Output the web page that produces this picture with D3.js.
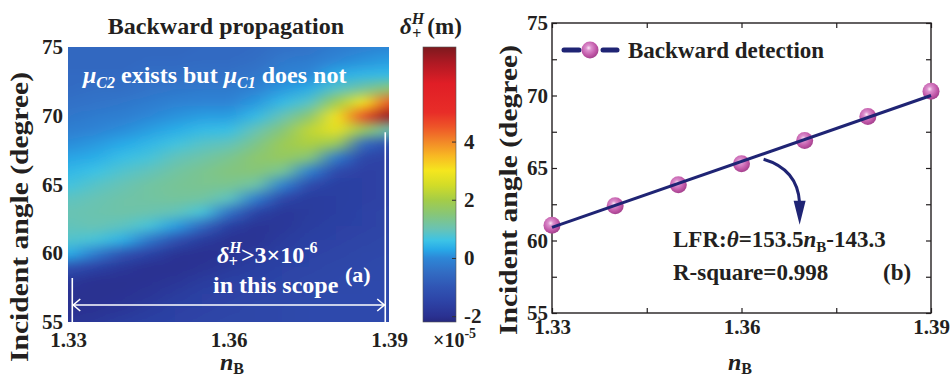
<!DOCTYPE html>
<html>
<head>
<meta charset="utf-8">
<script src="https://cdn.jsdelivr.net/npm/d3@7"></script>
<style>
  body { margin: 0; background: #fff; }
  svg text { font-family: "Liberation Serif", "Times New Roman", serif; font-weight: bold; fill: #231f20; }
</style>
</head>
<body>
<div id="chart"></div>
<script>
// ---- data ----
// panel (a): delta^H_+ (x1e-5 m) sampled on an n_B x angle grid
var nValues = [1.33, 1.335, 1.34, 1.345, 1.35, 1.355, 1.36, 1.365, 1.37, 1.375, 1.38, 1.385, 1.39];
var angleValues = [55, 56, 57, 58, 59, 60, 61, 62, 63, 64, 65, 66, 67, 68, 69, 70, 71, 72, 73, 74, 75];
// one row per n_B value, angles 55 -> 75
var deltaGrid = [
  [-1.9, -2.0, -2.0, -1.8, -1.1, 0.35, 0.8, 0.95, 1.0, 0.9, 0.65, 0.45, 0.25, 0.05, -0.15, -0.3, -0.4, -0.5, -0.55, -0.6, -0.6],
  [-1.8, -1.95, -2.0, -2.0, -1.5, -0.2, 0.7, 1.0, 1.05, 1.0, 0.85, 0.6, 0.35, 0.15, -0.05, -0.2, -0.35, -0.45, -0.55, -0.6, -0.6],
  [-1.65, -1.85, -1.95, -2.0, -1.8, -1.0, 0.4, 0.9, 1.1, 1.1, 1.0, 0.8, 0.55, 0.3, 0.05, -0.15, -0.3, -0.45, -0.55, -0.6, -0.6],
  [-1.55, -1.7, -1.85, -1.95, -2.0, -1.5, -0.3, 0.7, 1.05, 1.15, 1.15, 0.95, 0.7, 0.45, 0.2, 0.0, -0.2, -0.35, -0.45, -0.55, -0.6],
  [-1.5, -1.55, -1.7, -1.85, -2.0, -1.9, -1.1, 0.2, 0.95, 1.2, 1.25, 1.15, 0.95, 0.65, 0.35, 0.1, -0.1, -0.3, -0.45, -0.55, -0.6],
  [-1.45, -1.5, -1.55, -1.7, -1.9, -2.0, -1.7, -0.6, 0.7, 1.15, 1.3, 1.3, 1.1, 0.85, 0.5, 0.2, -0.05, -0.25, -0.4, -0.5, -0.55],
  [-1.4, -1.45, -1.5, -1.55, -1.75, -1.9, -1.95, -1.6, -0.4, 0.9, 1.3, 1.45, 1.3, 0.95, 0.55, 0.2, -0.05, -0.25, -0.4, -0.5, -0.55],
  [-1.4, -1.4, -1.45, -1.5, -1.6, -1.75, -1.9, -1.9, -1.5, -0.2, 1.1, 1.5, 1.6, 1.35, 1.0, 0.5, 0.15, -0.1, -0.3, -0.45, -0.5],
  [-1.35, -1.35, -1.4, -1.45, -1.5, -1.6, -1.7, -1.8, -1.8, -1.4, -0.1, 1.25, 1.75, 1.85, 1.5, 1.0, 0.5, 0.15, -0.1, -0.25, -0.4],
  [-1.3, -1.3, -1.35, -1.4, -1.45, -1.5, -1.55, -1.65, -1.7, -1.7, -1.3, -0.1, 1.5, 2.1, 2.3, 1.6, 0.85, 0.35, 0.0, -0.2, -0.35],
  [-1.3, -1.3, -1.3, -1.35, -1.4, -1.45, -1.5, -1.55, -1.6, -1.6, -1.6, -1.3, -0.2, 1.8, 2.8, 3.0, 1.9, 0.85, 0.35, 0.0, -0.2],
  [-1.3, -1.3, -1.3, -1.3, -1.35, -1.4, -1.45, -1.5, -1.5, -1.55, -1.55, -1.55, -1.4, -0.5, 1.8, 4.6, 3.0, 1.2, 0.45, 0.1, -0.1],
  [-1.3, -1.3, -1.3, -1.3, -1.3, -1.35, -1.4, -1.45, -1.45, -1.5, -1.5, -1.5, -1.5, -1.2, 1.0, 7.0, 4.5, 1.6, 0.5, 0.2, 0.0]
];
// colour bar, as it looks in the picture (washed-out jet)
var colorStops = [-2.2, -2.0, -1.5, -1.0, -0.5, 0.0, 0.3, 0.6, 1.0, 1.5, 2.0, 2.5, 3.0, 3.5, 4.0, 4.5, 5.0, 6.0, 6.7, 7.25];
var colorHex = ["#26287f", "#2a3191", "#2d43a6", "#3055b4", "#326cc3", "#2d87d7", "#28aae8", "#3cc3e6",
                "#69c3b4", "#87c678", "#a5cd46", "#d2dc28", "#f5e61e", "#f8b923", "#f28728", "#ee5528",
                "#e82d28", "#e01e26", "#af1923", "#7d191e"];
var cbarTicks = [-2, 0, 2, 4];

// panel (b): backward detection
var detectN = [1.33, 1.34, 1.35, 1.36, 1.37, 1.38, 1.39];
var detectAngle = [61.05, 62.4, 63.85, 65.3, 66.9, 68.55, 70.3];
var fitN = [1.33, 1.39];
var fitAngle = [60.9, 70.0];

var nTicks = [1.33, 1.36, 1.39];
var nMinorTicks = [1.33, 1.345, 1.36, 1.375, 1.39];
var angleTicks = [55, 60, 65, 70, 75];
var angleMinorTicks = [55, 57.5, 60, 62.5, 65, 67.5, 70, 72.5, 75];

var svgWidth = 952, svgHeight = 378;
var svg = d3.select("#chart").append("svg")
  .attr("width", svgWidth).attr("height", svgHeight);
var defs = svg.append("defs");

var xL = d3.scaleLinear().domain([1.33, 1.39]).range([68, 389]);
var yL = d3.scaleLinear().domain([55, 75]).range([322, 47]);
var cb = d3.scaleLinear().domain([-2.2, 7.25]).range([322, 47]);
var xR = d3.scaleLinear().domain([1.33, 1.39]).range([552, 931]);
var yR = d3.scaleLinear().domain([55, 75]).range([313, 23]);
var color = d3.scaleLinear().domain(colorStops).range(colorHex).clamp(true);
var dashNum = function(d) { return d < 0 ? "-" + Math.abs(d) : "" + d; };

// rich text helper: parts = [{t, it, sh (baseline shift), sz, dx}]
function richText(g, x, y, parts, size, anchor, fill) {
  var t = g.append("text").attr("x", x).attr("y", y)
    .style("font-size", size + "px")
    .attr("text-anchor", anchor || "start");
  if (fill) t.style("fill", fill);
  var cur = 0;
  parts.forEach(function(p) {
    var sh = p.sh || 0;
    var ts = t.append("tspan").text(p.t).attr("dy", sh - cur);
    if (p.dx) ts.attr("dx", p.dx);
    if (p.it) ts.style("font-style", "italic");
    if (p.sz) ts.style("font-size", p.sz + "px");
    cur = sh;
  });
  return t;
}

// ---------- panel (a): heat map ----------
var nc = nValues.length, nr = angleValues.length;
var canvas = document.createElement("canvas");
canvas.width = nc + 2; canvas.height = nr + 2;
var ctx = canvas.getContext("2d");
var img = ctx.createImageData(nc + 2, nr + 2);
for (var px = 0; px < nc + 2; px++) {
  for (var py = 0; py < nr + 2; py++) {
    var i = Math.min(Math.max(px - 1, 0), nc - 1);
    var j = Math.min(Math.max(nr - py, 0), nr - 1);
    var c = d3.rgb(color(deltaGrid[i][j]));
    var k = (py * (nc + 2) + px) * 4;
    img.data[k] = c.r; img.data[k + 1] = c.g; img.data[k + 2] = c.b; img.data[k + 3] = 255;
  }
}
ctx.putImageData(img, 0, 0);

defs.append("clipPath").attr("id", "heatClip").append("rect")
  .attr("x", xL(1.33)).attr("y", yL(75))
  .attr("width", xL(1.39) - xL(1.33)).attr("height", yL(55) - yL(75));
defs.append("filter").attr("id", "soft")
  .attr("filterUnits", "userSpaceOnUse")
  .attr("x", 0).attr("y", 0).attr("width", 460).attr("height", 378)
  .append("feGaussianBlur").attr("stdDeviation", "6 3");

var dn = 0.005, da = 1;
svg.append("g").attr("clip-path", "url(#heatClip)")
  .append("image")
  .attr("href", canvas.toDataURL())
  .attr("preserveAspectRatio", "none")
  .attr("filter", "url(#soft)")
  .attr("x", xL(1.33 - 1.5 * dn))
  .attr("y", yL(75 + 1.5 * da))
  .attr("width", xL(1.39 + 1.5 * dn) - xL(1.33 - 1.5 * dn))
  .attr("height", yL(55 - 1.5 * da) - yL(75 + 1.5 * da));

// axes of (a)
var axA = svg.append("g").attr("transform", "translate(0," + yL(55) + ")")
  .call(d3.axisBottom(xL).tickValues(nTicks).tickSize(0).tickPadding(10).tickFormat(d3.format(".2f")));
var ayA = svg.append("g").attr("transform", "translate(" + xL(1.33) + ",0)")
  .call(d3.axisLeft(yL).tickValues(angleTicks).tickSize(0).tickPadding(5));
[axA, ayA].forEach(function(a) {
  a.select(".domain").remove();
  a.selectAll("text").style("font-size", "21px").attr("fill", null);
});

// white annotations
var annA = svg.append("g");
richText(annA, 83, 83, [
  {t: "\u03bc", it: true}, {t: "C2", it: true, sz: 16, sh: 5},
  {t: " exists but ", sh: 0}, {t: "\u03bc", it: true}, {t: "C1", it: true, sz: 16, sh: 5},
  {t: " does not", sh: 0}], 24, "start", "#fff");
richText(annA, 217, 263, [
  {t: "\u03b4", it: true}, {t: "H", it: true, sz: 16, sh: -10},
  {t: "+", sz: 16, sh: 4, dx: -13}, {t: ">3\u00d710", sh: 0, dx: 3},
  {t: "-6", sz: 16, sh: -10}], 24, "start", "#fff");
richText(annA, 213, 293, [{t: "in this scope"}], 24, "start", "#fff");
richText(annA, 345, 282, [{t: "(a)"}], 22, "start", "#fff");

var arrowY = 305;
var leftX = xL(1.3308), rightX = xL(1.3893);
annA.append("line").attr("x1", leftX).attr("x2", rightX).attr("y1", arrowY).attr("y2", arrowY);
annA.append("line").attr("x1", leftX).attr("x2", leftX).attr("y1", yL(58.2)).attr("y2", yL(55));
annA.append("line").attr("x1", rightX).attr("x2", rightX).attr("y1", yL(68.8)).attr("y2", yL(55));
annA.append("path").attr("d", "M" + (leftX + 8) + "," + (arrowY - 6) + "L" + (leftX + 1) + "," + arrowY + "L" + (leftX + 8) + "," + (arrowY + 6)).attr("fill", "none");
annA.append("path").attr("d", "M" + (rightX - 8) + "," + (arrowY - 6) + "L" + (rightX - 1) + "," + arrowY + "L" + (rightX - 8) + "," + (arrowY + 6)).attr("fill", "none");
annA.selectAll("line,path").attr("stroke", "#fff").attr("stroke-width", 1.6);

// title + labels of (a)
svg.append("text").attr("x", 226).attr("y", 34).attr("text-anchor", "middle")
  .style("font-size", "24px").text("Backward propagation");
svg.append("text").attr("transform", "translate(28,217) rotate(-90)")
  .attr("text-anchor", "middle").style("font-size", "26px")
  .attr("textLength", 290).attr("lengthAdjust", "spacingAndGlyphs")
  .text("Incident angle (degree)");
richText(svg, 232, 370, [{t: "n", it: true}, {t: "B", sz: 16, sh: 4}], 24, "middle");

// ---------- colour bar ----------
var grad = defs.append("linearGradient").attr("id", "cbarGrad")
  .attr("x1", 0).attr("y1", 1).attr("x2", 0).attr("y2", 0);
colorStops.forEach(function(v, idx) {
  grad.append("stop").attr("offset", (v - colorStops[0]) / (colorStops[colorStops.length - 1] - colorStops[0]))
    .attr("stop-color", colorHex[idx]);
});
svg.append("rect").attr("x", 423).attr("y", cb(7.25)).attr("width", 33)
  .attr("height", cb(-2.2) - cb(7.25)).attr("fill", "url(#cbarGrad)")
  .attr("stroke", "#555").attr("stroke-width", 0.6);
var cbAxis = svg.append("g").attr("transform", "translate(456,0)")
  .call(d3.axisRight(cb).tickValues(cbarTicks).tickSizeInner(-4).tickSizeOuter(0).tickPadding(8).tickFormat(dashNum));
cbAxis.select(".domain").remove();
cbAxis.selectAll("line").attr("stroke", "#333");
cbAxis.selectAll("text").style("font-size", "21px").attr("fill", null);
richText(svg, 400, 34, [
  {t: "\u03b4", it: true}, {t: "H", it: true, sz: 16, sh: -10},
  {t: "+", sz: 16, sh: 5, dx: -12}, {t: "(m)", sh: 0, dx: 6}], 23, "start");
richText(svg, 433, 347, [{t: "\u00d710"}, {t: "-5", sz: 14, sh: -9}], 20, "start");

// ---------- panel (b) ----------
var gB = svg.append("g");
var axB = gB.append("g").attr("transform", "translate(0," + yR(55) + ")")
  .call(d3.axisBottom(xR).tickValues(nMinorTicks).tickSizeInner(-5).tickSizeOuter(0).tickPadding(6)
    .tickFormat(function(d) { return nTicks.indexOf(d) >= 0 ? d3.format(".2f")(d) : ""; }));
var axBt = gB.append("g").attr("transform", "translate(0," + yR(75) + ")")
  .call(d3.axisTop(xR).tickValues(nMinorTicks).tickSizeInner(-5).tickSizeOuter(0).tickFormat(""));
var ayB = gB.append("g").attr("transform", "translate(" + xR(1.33) + ",0)")
  .call(d3.axisLeft(yR).tickValues(angleMinorTicks).tickSizeInner(-5).tickSizeOuter(0).tickPadding(4)
    .tickFormat(function(d) { return angleTicks.indexOf(d) >= 0 ? d : ""; }));
var ayBr = gB.append("g").attr("transform", "translate(" + xR(1.39) + ",0)")
  .call(d3.axisRight(yR).tickValues(angleMinorTicks).tickSizeInner(-5).tickSizeOuter(0).tickFormat(""));
[axB, axBt, ayB, ayBr].forEach(function(a) {
  a.select(".domain").remove();
  a.selectAll("line").attr("stroke", "#231f20").attr("stroke-width", 1.2);
  a.selectAll("text").style("font-size", "21px").attr("fill", null);
});
gB.append("rect").attr("x", xR(1.33)).attr("y", yR(75))
  .attr("width", xR(1.39) - xR(1.33)).attr("height", yR(55) - yR(75))
  .attr("fill", "none").attr("stroke", "#231f20").attr("stroke-width", 1.4);

var sphere = defs.append("radialGradient").attr("id", "sphere")
  .attr("cx", "0.42").attr("cy", "0.38").attr("r", "0.62");
sphere.append("stop").attr("offset", 0).attr("stop-color", "#fbe8f6");
sphere.append("stop").attr("offset", 0.25).attr("stop-color", "#dc8fcd");
sphere.append("stop").attr("offset", 0.7).attr("stop-color", "#c259a9");
sphere.append("stop").attr("offset", 1).attr("stop-color", "#a5418e");

var navy = "#1f2474";
gB.append("g").selectAll("circle")
  .data(detectN)
  .enter().append("circle")
  .attr("cx", function(d) { return xR(d); })
  .attr("cy", function(d, i) { return yR(detectAngle[i]); })
  .attr("r", 8.5)
  .attr("fill", "url(#sphere)");

var fitLine = d3.line().x(function(d) { return xR(d); }).y(function(d, i) { return yR(fitAngle[i]); });
gB.append("path").datum(fitN).attr("d", fitLine)
  .attr("fill", "none").attr("stroke", navy).attr("stroke-width", 3);

// legend
var lg = gB.append("g");
lg.append("line").attr("x1", 564).attr("x2", 579).attr("y1", 50).attr("y2", 50);
lg.append("line").attr("x1", 603).attr("x2", 617).attr("y1", 50).attr("y2", 50);
lg.selectAll("line").attr("stroke", navy).attr("stroke-width", 5).attr("stroke-linecap", "round");
lg.append("circle").attr("cx", 590).attr("cy", 50).attr("r", 8.5).attr("fill", "url(#sphere)");
lg.append("text").attr("x", 628).attr("y", 58).style("font-size", "23px").text("Backward detection");

// curved arrow to the fit text
var a0 = [xR(1.3635), yR(65.6)], a1 = [xR(1.3692), yR(62.6)];
gB.append("path")
  .attr("d", "M" + a0[0] + "," + a0[1] + "Q" + (a1[0] - 2) + "," + (a0[1] + 10) + " " + a1[0] + "," + a1[1])
  .attr("fill", "none").attr("stroke", navy).attr("stroke-width", 3);
gB.append("path")
  .attr("d", "M" + (a1[0] - 6) + "," + (a1[1] - 2) + "L" + (a1[0] + 6) + "," + (a1[1] - 2) + "L" + a1[0] + "," + (a1[1] + 22) + "Z")
  .attr("fill", navy);

richText(gB, 673, 247, [
  {t: "LFR:"}, {t: "\u03b8", it: true}, {t: "=153.5"}, {t: "n", it: true},
  {t: "B", sz: 15, sh: 5}, {t: "-143.3", sh: 0}], 23, "start");
richText(gB, 673, 280, [{t: "R-square=0.998"}], 23, "start");
richText(gB, 883, 280, [{t: "(b)"}], 23, "start");

gB.append("text").attr("transform", "translate(517,190) rotate(-90)")
  .attr("text-anchor", "middle").style("font-size", "26px")
  .attr("textLength", 290).attr("lengthAdjust", "spacingAndGlyphs")
  .text("Incident angle (degree)");
richText(gB, 740, 370, [{t: "n", it: true}, {t: "B", sz: 16, sh: 4}], 24, "middle");
</script>
</body>
</html>
